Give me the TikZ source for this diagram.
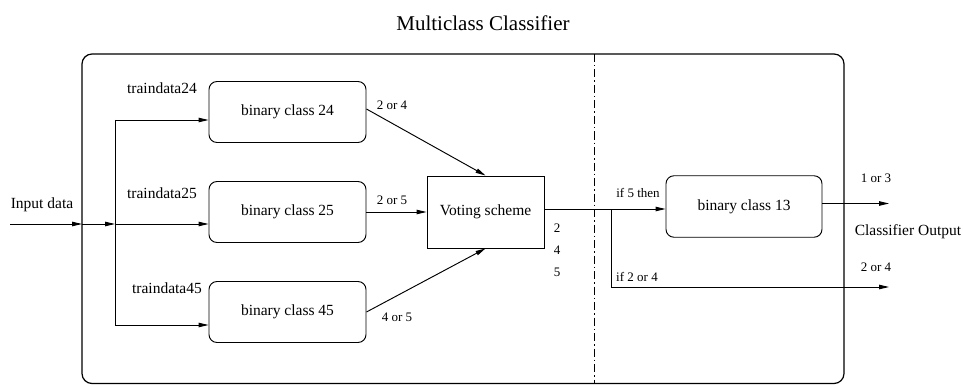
\documentclass[tikz,border=0pt]{standalone}
\usepackage{fontspec}
\setmainfont{Liberation Serif}
\usetikzlibrary{arrows.meta,calc}
\begin{document}
\begin{tikzpicture}[x=1pt,y=-1pt,
  line width=0.95pt,
  arr/.style={-{Triangle[length=10pt,width=4.5pt]}},
  rbox/.style={draw, rounded corners=8pt, minimum width=157pt, minimum height=61pt, inner sep=0pt, font=\fontsize{15.5}{18}\selectfont},
  sbox/.style={draw, minimum width=117pt, minimum height=72pt, inner sep=0pt, font=\fontsize{15.5}{18}\selectfont},
  lbl/.style={inner sep=0pt, font=\fontsize{15.5}{18}\selectfont},
  sml/.style={inner sep=0pt, font=\fontsize{13}{15}\selectfont},
  ttl/.style={inner sep=0pt, font=\fontsize{21}{25}\selectfont},
]
\useasboundingbox (0,0) rectangle (963,385);

% title
\node[ttl] (title) at (483,23) {Multiclass Classifier};

% outer frame and separator
\draw[line width=1.2pt, rounded corners=10pt] (82,54) rectangle (844,383.5);
\draw[line width=0.9pt, dash pattern=on 8pt off 3pt on 1.5pt off 3pt] (594,54) -- (594,384);

% boxes
\node[rbox] (b24) at (287.5,112) {binary class 24};
\node[rbox] (b25) at (287.5,212) {binary class 25};
\node[rbox] (b45) at (287.5,312) {binary class 45};
\node[sbox] (vote) at (485.5,212) {Voting scheme};
\node[rbox, minimum width=156pt, minimum height=61.5pt] (b13) at (744,206.5) {binary class 13};

% coordinates
\coordinate (in) at (10,224);
\coordinate (frameL) at (82,224);
\coordinate (j25) at (115,224);
\coordinate (j24) at (115,120);
\coordinate (j45) at (115,325);
\coordinate (split) at (611,209);
\coordinate (low) at (611,287);
\coordinate (out2) at (889,287);
\coordinate (out1) at (889,203.5);

% input connectors
\draw[arr] (in) -- (frameL);
\draw[arr] (frameL) -- (j25);
\draw[arr] (j25) -- (b25.west |- j25);
\draw (j24) -- (j45);
\draw[arr] (j24) -- (b24.west |- j24);
\draw[arr] (j45) -- (b45.west |- j45);

% to voting
\draw[arr] ($(b24.east)+(0,-3)$) -- (vote.north);
\draw[arr] (b25.east) -- (vote.west);
\draw[arr] (b45.east) -- (vote.south);

% output side
\draw (vote.east |- split) -- (split);
\draw[arr] (split) -- (b13.west |- split);
\draw[arr] (split) -- (low) -- (out2);
\draw[arr] (b13.east |- out1) -- (out1);

% labels
\node[lbl] (lin) at (42,205) {Input data};
\node[lbl] (l24) at (162,88) {traindata24};
\node[lbl] (l25) at (162,193) {traindata25};
\node[lbl] (l45) at (167,288) {traindata45};
\node[sml] (o24) at (392,105) {2 or 4};
\node[sml] (o25) at (392,200) {2 or 5};
\node[sml] (o45) at (397,317) {4 or 5};
\node[sml] (v2) at (557,228) {2};
\node[sml] (v4) at (557,250) {4};
\node[sml] (v5) at (557,272) {5};
\node[sml] (if5) at (638,193) {if 5 then};
\node[sml] (if24) at (637,277) {if 2 or 4};
\node[sml] (r13) at (876,178) {1 or 3};
\node[lbl] (cout) at (908,232) {Classifier Output};
\node[sml] (r24) at (876,267) {2 or 4};
\end{tikzpicture}
\end{document}
